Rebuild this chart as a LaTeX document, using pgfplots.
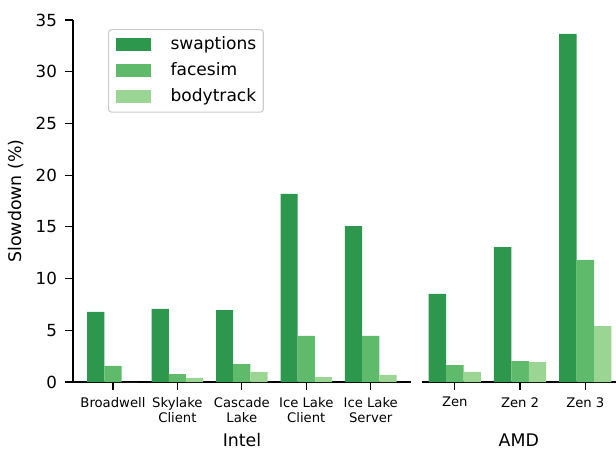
\documentclass[border=0pt]{standalone}
\usepackage{pgfplots}
\pgfplotsset{compat=1.18}
\usepackage{fontspec}
\setmainfont{DejaVu Sans}
\definecolor{cA}{RGB}{46,151,78}
\definecolor{cB}{RGB}{96,186,108}
\definecolor{cC}{RGB}{155,213,148}
\pgfplotsset{
  common/.style={
    scale only axis,
    height=260.64pt,
    ymin=0, ymax=35,
    tick align=outside,
    major tick length=5.4pt,
    every tick/.style={black, line width=0.9pt},
    axis line style={-, black, line width=0.9pt},
    /pgf/number format/assume math mode=true,
    xtick=data,
    xticklabel style={font=\fontsize{9.5}{11}\selectfont, align=center, anchor=north, inner sep=0pt, yshift=-5.4pt},
    xlabel style={font=\fontsize{12.5}{15}\selectfont, at={(axis description cs:0.5,-0.1787)}, anchor=base},
    x tick style={line width=0.9pt},
  },
}
\begin{document}
\begin{tikzpicture}
\begin{axis}[common,
  name=intel,
  at={(0,0)}, anchor=south west,
  width=243.36pt,
  xmin=-0.62, xmax=4.625,
  axis x line*=bottom, axis y line*=left,
  ytick={0,5,10,15,20,25,30,35},
  yticklabel style={font=\fontsize{12}{14}\selectfont, anchor=east, inner sep=0pt, xshift=-6pt},
  xticklabels={Broadwell,{Skylake\\Client},{Cascade\\Lake},{Ice Lake\\Client},{Ice Lake\\Server}},
  xlabel={Intel},
  ylabel={Slowdown (\%)},
  ylabel style={font=\fontsize{12.5}{15}\selectfont, at={(axis description cs:-0.1686,0.5)}, anchor=center},
  legend image code/.code={\fill[#1, fill opacity=1, sharp corners] (0pt,-4.7pt) rectangle (25.2pt,4.7pt);},
  legend cell align=left,
  legend style={at={(axis description cs:0.1036,0.975)}, anchor=north west,
    draw=black!20, line width=0.8pt, rounded corners=2pt, fill=white, fill opacity=0.8, text opacity=1,
    font=\fontsize{12.3}{14}\selectfont,
    inner xsep=5pt, inner ysep=5pt, row sep=7pt,
    nodes={inner sep=0pt, text height=9pt, text depth=2.8pt},
    /tikz/every odd column/.append style={column sep=14.4pt}},
]
\addplot[ybar, fill=cA, draw=none, bar width=0.2667, bar shift=-0.2667] coordinates {(0,6.77) (1,7.06) (2,6.96) (3,18.18) (4,15.08)};
\addplot[ybar, fill=cB, draw=none, bar width=0.2667, bar shift=0] coordinates {(0,1.55) (1,0.77) (2,1.74) (3,4.45) (4,4.45)};
\addplot[ybar, fill=cC, draw=none, bar width=0.2667, bar shift=0.2667] coordinates {(0,0) (1,0.39) (2,0.97) (3,0.48) (4,0.68)};
\legend{swaptions,facesim,bodytrack}
\end{axis}
\begin{axis}[common,
  name=amd,
  at={(intel.south east)}, anchor=south west, xshift=7.56pt,
  width=140.04pt,
  xmin=-0.51, xmax=2.47,
  axis x line*=bottom, axis y line=none,
  ytick=\empty,
  xticklabels={Zen,Zen 2,Zen 3},
  xlabel={AMD},
]
\addplot[ybar, fill=cA, draw=none, bar width=0.2667, bar shift=-0.2667] coordinates {(0,8.51) (1,13.05) (2,33.65)};
\addplot[ybar, fill=cB, draw=none, bar width=0.2667, bar shift=0] coordinates {(0,1.64) (1,2.03) (2,11.8)};
\addplot[ybar, fill=cC, draw=none, bar width=0.2667, bar shift=0.2667] coordinates {(0,0.97) (1,1.93) (2,5.41)};
\end{axis}
\pgfresetboundingbox
\path[use as bounding box] ([shift={(-52.56pt,-48.24pt)}]intel.south west) rectangle ++(443.52pt,323.28pt);
\end{tikzpicture}
\end{document}
